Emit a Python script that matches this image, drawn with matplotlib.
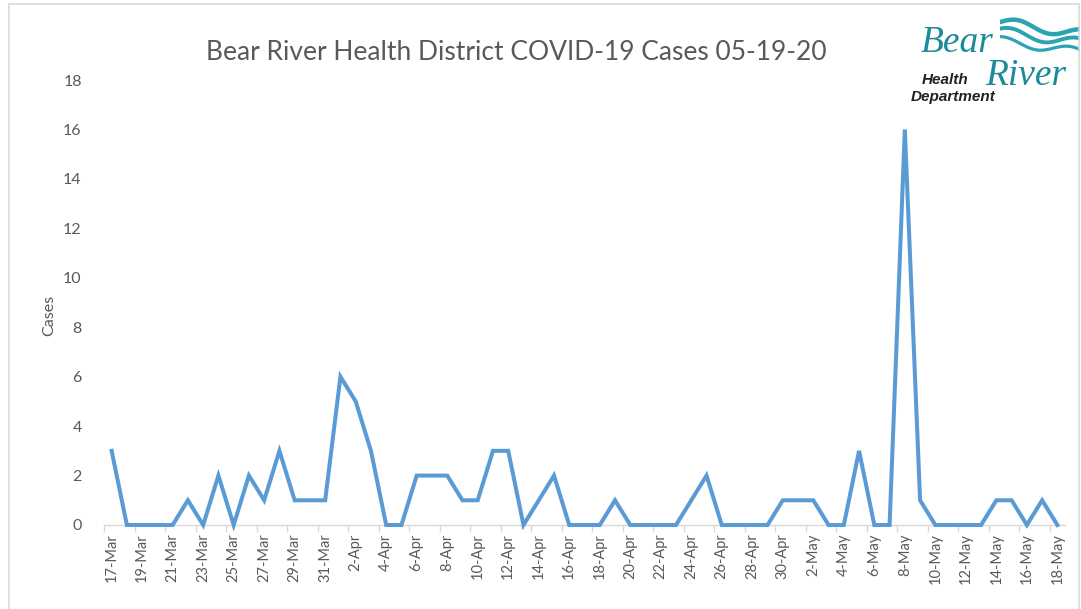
import datetime as dt
import numpy as np
import matplotlib
matplotlib.use("Agg")
import matplotlib.pyplot as plt
from matplotlib.patches import Rectangle

# ---- data ----
start_date = dt.date(2020, 3, 17)
n_days = 63
cases = [3, 0, 0, 0, 0, 1, 0, 2, 0, 2, 1, 3, 1, 1, 1,          # 17-31 Mar
         6, 5, 3, 0, 0, 2, 2, 2, 1, 1, 3, 3, 0, 1, 2,          # 1-15 Apr
         0, 0, 0, 1, 0, 0, 0, 0, 1, 2, 0, 0, 0, 0, 1,          # 16-30 Apr
         1, 1, 0, 0, 3, 0, 0, 16, 1, 0, 0, 0, 0, 1, 1, 0, 1, 0]  # 1-18 May
dates = [start_date + dt.timedelta(days=i) for i in range(n_days)]
date_labels = [f"{d.day}-{d.strftime('%b')}" for d in dates]
y_ticks = list(range(0, 19, 2))
title = "Bear River Health District COVID-19 Cases 05-19-20"
y_label = "Cases"

FONT = "Lato"
GRAY = "#595959"
LINE = "#5B9BD5"

W, H = 1081, 609
fig = plt.figure(figsize=(W / 100, H / 100), dpi=100)
fig.patch.set_facecolor("white")

# chart-area border
fig.add_artist(Rectangle((9 / W, -0.01), (1079 - 9) / W, 1 - 4 / H + 0.01,
                         transform=fig.transFigure, fill=False,
                         edgecolor="#D9D9D9", lw=1.2))

ax = fig.add_axes([104 / W, 1 - 525 / H, (1065 - 104) / W, (525 - 80) / H])
x = np.arange(n_days)
ax.plot(x, cases, color=LINE, lw=2.9, solid_joinstyle="miter", clip_on=False, zorder=3)

ax.set_xlim(-0.5, n_days - 0.5)
ax.set_ylim(0, 18)

for s in ["top", "right", "left"]:
    ax.spines[s].set_visible(False)
ax.spines["bottom"].set_color("#D9D9D9")
ax.spines["bottom"].set_linewidth(1.0)

ax.set_yticks(y_ticks)
ax.set_yticklabels([str(v) for v in y_ticks], fontfamily=FONT, fontsize=11.5, color=GRAY)
ax.tick_params(axis="y", length=0, pad=16)

ax.set_xticks(x[::2])
ax.set_xticklabels(date_labels[::2], rotation=90, fontfamily=FONT,
                   fontsize=10.5, color=GRAY)
ax.tick_params(axis="x", which="major", length=0, pad=6)
ax.set_xticks(np.arange(-0.5, n_days, 2), minor=True)
ax.tick_params(axis="x", which="minor", length=5, color="#D9D9D9", width=1.0, direction="out")

ax.set_ylabel(y_label, fontfamily=FONT, fontsize=11.5, color=GRAY)
ax.yaxis.set_label_coords(-(104 - 56) / (1065 - 104), (525 - 315) / (525 - 80))

fig.text(516 / W, 1 - 52 / H, title, ha="center", va="center",
         fontfamily=FONT, fontsize=19, color=GRAY)

# logo (text rendition + decorative waves)
TEAL = "#1B8A9A"
lax = fig.add_axes([1000 / W, 1 - 58 / H, 80 / W, 46 / H])
lax.set_axis_off()
t = np.linspace(0, 1, 60)
for k, (amp, off, lw) in enumerate([(0.10, 0.78, 3.2), (0.10, 0.58, 2.8), (0.09, 0.38, 2.3)]):
    lax.plot(t, off + amp * np.sin(2 * np.pi * (t * 1.2 + 0.1 * k)) - 0.25 * t,
             color="#2AA3B3", lw=lw, solid_capstyle="round")
lax.set_xlim(0, 1)
lax.set_ylim(0, 1)

fig.text(921 / W, 1 - 43 / H, "Bear", ha="left", va="center", fontfamily="Liberation Serif",
         fontstyle="italic", fontsize=27, color=TEAL)
fig.text(985 / W, 1 - 76 / H, "River", ha="left", va="center", fontfamily="Liberation Serif",
         fontstyle="italic", fontsize=27, color=TEAL)
fig.text(922 / W, 1 - 80 / H, "Health", ha="left", va="center", fontfamily="Liberation Sans",
         fontstyle="italic", fontweight="bold", fontsize=11, color="#222222")
fig.text(911 / W, 1 - 97 / H, "Department", ha="left", va="center", fontfamily="Liberation Sans",
         fontstyle="italic", fontweight="bold", fontsize=11, color="#222222")

fig.savefig("out.png", dpi=100, facecolor="white")
